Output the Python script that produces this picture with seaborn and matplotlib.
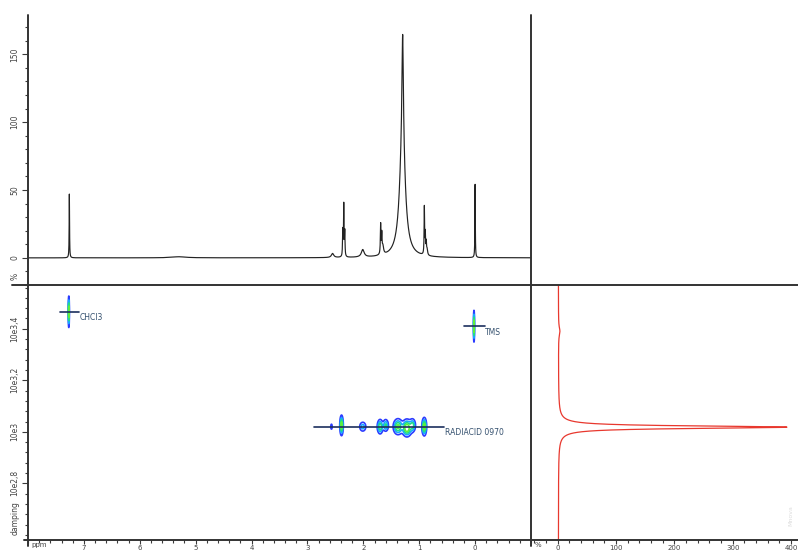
import numpy as np
import pandas as pd
import matplotlib
matplotlib.use("Agg")
import matplotlib.pyplot as plt
import seaborn as sns
from matplotlib.lines import Line2D
from matplotlib.ticker import MultipleLocator, FixedLocator, FixedFormatter

# ---------------- data ----------------
# 1D proton spectrum: peak list (ppm, height %, FWHM ppm)
peak_ppm    = [7.26, 2.55, 2.368, 2.35, 2.332, 2.01, 1.69, 1.67, 1.65, 1.296, 1.30, 0.908, 0.891, 0.874, 0.858, 5.30, 0.00]
peak_height = [47.0, 3.0, 19.0, 38.0, 18.0, 5.5, 22.0, 14.0, 6.0, 80.0, 85.0, 35.0, 15.0, 9.0, 4.0, 0.8, 54.0]
peak_fwhm   = [0.008, 0.05, 0.010, 0.010, 0.010, 0.06, 0.012, 0.012, 0.03, 0.03, 0.12, 0.010, 0.010, 0.012, 0.02, 0.3, 0.008]

# DOSY 2D blobs: ppm, log D, relative amplitude, width ppm, width logD
blob_ppm   = [2.57, 2.39, 2.01, 1.70, 1.60, 1.38, 1.22, 1.12, 0.91, 7.27, 0.02]
blob_logd  = [3.02, 3.025, 3.02, 3.02, 3.025, 3.02, 3.015, 3.025, 3.02, 3.466, 3.41]
blob_amp   = [0.25, 0.9, 0.4, 0.7, 0.55, 0.8, 1.0, 0.6, 0.9, 1.0, 1.0]
blob_wppm  = [0.010, 0.016, 0.035, 0.028, 0.028, 0.045, 0.045, 0.03, 0.022, 0.005, 0.005]
blob_wlogd = [0.008, 0.020, 0.011, 0.015, 0.013, 0.016, 0.017, 0.014, 0.018, 0.030, 0.030]

# component lines (ppm from, ppm to, log D) and labels
comp_names = ["CHCl3", "TMS", "RADIACID 0970"]
comp_from  = [7.42, 0.20, 2.89]
comp_to    = [7.08, -0.17, 0.55]
comp_logd  = [3.466, 3.41, 3.02]
label_ppm  = [7.07, -0.18, 0.53]
label_logd = [3.443, 3.384, 2.996]

# diffusion projection: peaks (log D, height %, FWHM)
proj_center = [3.018, 3.39]
proj_height = [392.0, 2.5]
proj_fwhm   = [0.012, 0.04]
proj_base   = 1.0

# axes ticks
ppm_ticks = [0, 1, 2, 3, 4, 5, 6, 7]
pct_ticks = [0, 50, 100, 150]
logd_ticks = [2.8, 3.0, 3.2, 3.4]
logd_labels = ["10e2,8", "10e3", "10e3,2", "10e3,4"]
proj_ticks = [0, 100, 200, 300, 400]

# ---------------- build curves ----------------
def lor(x, x0, h, w):
    return h / (1.0 + ((x - x0) / (w / 2.0)) ** 2)

ppm = np.linspace(-1, 8, 18001)
spec = np.zeros_like(ppm)
for p, h, w in zip(peak_ppm, peak_height, peak_fwhm):
    spec += lor(ppm, p, h, w)
df_spec = pd.DataFrame({"ppm": ppm, "pct": spec})

logd = np.linspace(2.55, 3.6, 4001)
proj = np.full_like(logd, proj_base)
for c, h, w in zip(proj_center, proj_height, proj_fwhm):
    proj += lor(logd, c, h, w)
df_proj = pd.DataFrame({"logd": logd, "pct": proj})

gp = np.linspace(-1, 8, 2400)
gl = np.linspace(2.55, 3.6, 700)
P, L = np.meshgrid(gp, gl)
Z = np.zeros_like(P)
for p, l, a, wp, wl in zip(blob_ppm, blob_logd, blob_amp, blob_wppm, blob_wlogd):
    Z += a * np.exp(-0.5 * ((P - p) / wp) ** 2 - 0.5 * ((L - l) / wl) ** 2)

# ---------------- figure ----------------
W, H = 798, 551
sns.set_theme(style="white")
plt.rcParams["font.family"] = ["DejaVu Sans"]
fig = plt.figure(figsize=(W / 100, H / 100), dpi=100)

def ax_px(x0, y0, x1, y1):
    return fig.add_axes([x0 / W, 1 - y1 / H, (x1 - x0) / W, (y1 - y0) / H])

ax_top = ax_px(28, 15, 531, 285)
ax_2d = ax_px(28, 285, 531, 540)
ax_proj = ax_px(531, 285, 798, 540)
ax_tr = ax_px(531, 15, 798, 285)

for ax in (ax_top, ax_2d, ax_proj, ax_tr):
    ax.set_facecolor("white")
    for s in ax.spines.values():
        s.set_visible(False)

tick_col = "#3a3a3a"
lab_col = "#444444"
fs = 5.5
fsb = 5.0

# top spectrum
sns.lineplot(data=df_spec, x="ppm", y="pct", ax=ax_top, color="#222222",
             linewidth=0.85, estimator=None, sort=False)
ax_top.set_xlim(8, -1)
ax_top.set_ylim(-20, 179)
ax_top.set_xticks([])
ax_top.yaxis.set_major_locator(FixedLocator(pct_ticks))
ax_top.yaxis.set_minor_locator(MultipleLocator(10))
ax_top.tick_params(axis="y", which="major", direction="out", length=4, width=0.8,
                   color=tick_col, labelsize=fs, labelcolor=lab_col, pad=2,
                   left=True, labelrotation=90)
ax_top.tick_params(axis="y", which="minor", direction="out", length=2.5, width=0.8,
                   color=tick_col, left=True)
for t in ax_top.get_yticklabels():
    t.set_va("center")
ax_top.set_xlabel("")
ax_top.set_ylabel("")
ax_top.text(-0.026, -14, "%", transform=ax_top.get_yaxis_transform(), rotation=90,
            fontsize=fs, color=lab_col, ha="center", va="center")

# 2D DOSY
levels = [0.12, 0.3, 0.5, 0.72]
ax_2d.contour(P, L, Z, levels=levels,
              colors=["#2b3cff", "#18a8ff", "#1fdc8a", "#5cf03a"], linewidths=1.2)
for nm, a, b, y, lx, ly in zip(comp_names, comp_from, comp_to, comp_logd, label_ppm, label_logd):
    ax_2d.plot([a, b], [y, y], color="#1b2f5e", linewidth=1.2, zorder=3)
    ax_2d.text(lx, ly, nm, fontsize=fs, color="#34506e", ha="left", va="center")
ax_2d.set_xlim(8, -1)
ax_2d.set_ylim(2.58, 3.57)
ax_2d.xaxis.set_major_locator(FixedLocator(ppm_ticks))
ax_2d.xaxis.set_minor_locator(MultipleLocator(0.2))
ax_2d.yaxis.set_major_locator(FixedLocator(logd_ticks))
ax_2d.yaxis.set_major_formatter(FixedFormatter(logd_labels))
ax_2d.yaxis.set_minor_locator(MultipleLocator(0.04))
ax_2d.tick_params(axis="y", which="major", direction="out", length=4, width=0.8,
                  color=tick_col, labelsize=fs, labelcolor=lab_col, pad=2, left=True)
ax_2d.tick_params(axis="y", which="minor", direction="out", length=2.5, width=0.8,
                  color=tick_col, left=True)
ax_2d.tick_params(axis="x", which="major", direction="out", length=3, width=0.8,
                  color=tick_col, labelsize=fsb, labelcolor=lab_col, pad=0.3, bottom=True)
ax_2d.tick_params(axis="x", which="minor", direction="out", length=2.2, width=0.8,
                  color=tick_col, bottom=True)
for t in ax_2d.get_yticklabels():
    t.set_rotation(90)
    t.set_va("center")
ax_2d.set_xlabel("")
ax_2d.set_ylabel("")

# projection
sns.lineplot(data=df_proj, x="pct", y="logd", ax=ax_proj, color="#e8382e",
             linewidth=0.9, estimator=None, sort=False, orient="y")
ax_proj.set_xlim(-46, 412)
ax_proj.set_ylim(2.58, 3.57)
ax_proj.set_yticks([])
ax_proj.xaxis.set_major_locator(FixedLocator(proj_ticks))
ax_proj.xaxis.set_minor_locator(MultipleLocator(20))
ax_proj.tick_params(axis="x", which="major", direction="out", length=3, width=0.8,
                    color=tick_col, labelsize=fsb, labelcolor=lab_col, pad=0.3, bottom=True)
ax_proj.tick_params(axis="x", which="minor", direction="out", length=2.2, width=0.8,
                    color=tick_col, bottom=True)
ax_proj.set_xlabel("")
ax_proj.set_ylabel("")

ax_tr.set_xticks([])
ax_tr.set_yticks([])

# frame lines (pixel coordinates)
def fline(x0, y0, x1, y1):
    fig.add_artist(Line2D([x0 / W, x1 / W], [1 - y0 / H, 1 - y1 / H],
                          transform=fig.transFigure, color="#333333", linewidth=1.4))

fline(12, 285, 798, 285)   # horizontal divider
fline(531, 15, 531, 546)   # vertical divider
fline(28, 15, 28, 546)     # left axis
fline(24, 540, 798, 540)   # bottom axis

# axis unit labels
fig.text(31 / W, 1 - 542 / H, "ppm", fontsize=fsb, color=lab_col, ha="left", va="top")
fig.text(535 / W, 1 - 542 / H, "%", fontsize=fsb, color=lab_col, ha="left", va="top")
fig.text(15 / W, 1 - 518 / H, "damping", fontsize=fs, color=lab_col, ha="center",
         va="center", rotation=90)
fig.text(791 / W, 1 - 516 / H, "Mnova", fontsize=4.5, color="#dddddd", ha="center",
         va="center", rotation=90)

fig.savefig("out.png", dpi=100)
